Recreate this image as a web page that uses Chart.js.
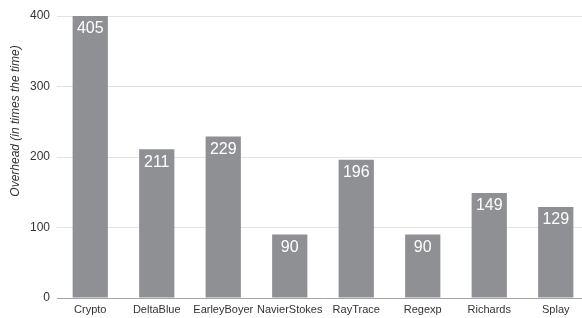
<!DOCTYPE html>
<html>
<head>
<meta charset="utf-8">
<script src="https://cdn.jsdelivr.net/npm/chart.js@4"></script>
<style>
  html, body { margin: 0; padding: 0; background: #fff; overflow: hidden; }
  .wrap { width: 589px; height: 318px; position: relative; }
</style>
</head>
<body>
<div class="wrap"><canvas id="overheadChart"></canvas></div>
<script>
const benchmarks = ['Crypto', 'DeltaBlue', 'EarleyBoyer', 'NavierStokes', 'RayTrace', 'Regexp', 'Richards', 'Splay'];
const overhead = [405, 211, 229, 90, 196, 90, 149, 129];
const yTicks = [0, 100, 200, 300, 400];
const yTitle = 'Overhead (in times the time)';

const fontFamily = '"Liberation Sans", "Helvetica Neue", Arial, sans-serif';

// white value labels inside the top of each bar, plus the rotated axis title
const barLabels = {
    id: 'barLabels',
    afterDatasetsDraw(chart) {
        const ctx = chart.ctx;
        const meta = chart.getDatasetMeta(0);
        ctx.save();
        ctx.fillStyle = '#ffffff';
        ctx.font = '16px ' + fontFamily;
        ctx.textAlign = 'center';
        ctx.textBaseline = 'top';
        meta.data.forEach((bar, i) => {
            const top = Math.max(bar.y, chart.chartArea.top);
            ctx.fillText(String(overhead[i]), bar.x, top + 5);
        });
        ctx.restore();

        // title sits a bit above the plot middle in the original
        ctx.save();
        ctx.translate(16, 121);
        ctx.rotate(-Math.PI / 2);
        ctx.fillStyle = '#333';
        ctx.font = 'italic 12px ' + fontFamily;
        ctx.textAlign = 'center';
        ctx.textBaseline = 'middle';
        ctx.fillText(yTitle, 0, 0);
        ctx.restore();
    }
};

new Chart(document.getElementById('overheadChart'), {
    type: 'bar',
    data: {
        labels: benchmarks,
        datasets: [{
            data: overhead,
            backgroundColor: '#8e9094',
            borderWidth: 0,
            barPercentage: 0.53,
            categoryPercentage: 1
        }]
    },
    options: {
        responsive: true,
        maintainAspectRatio: false,
        animation: false,
        layout: { padding: { top: 16, right: 0, left: 10, bottom: 0 } },
        plugins: {
            legend: { display: false },
            tooltip: { enabled: false }
        },
        scales: {
            x: {
                grid: { display: false, drawTicks: false },
                border: { display: true, color: '#a6a6a6', width: 1 },
                ticks: {
                    color: '#333',
                    font: { family: fontFamily, size: 11 },
                    padding: 5,
                    maxRotation: 0,
                    autoSkip: false
                },
                afterFit(scale) { scale.height = 20; }
            },
            y: {
                min: 0,
                max: 400,
                afterBuildTicks(scale) {
                    scale.ticks = yTicks.map(v => ({ value: v }));
                },
                grid: {
                    color: '#e3e3e3',
                    drawTicks: false
                },
                border: { display: false },
                ticks: {
                    color: '#333',
                    font: { family: fontFamily, size: 12 },
                    padding: 7
                },
                afterFit(scale) { scale.width = 47; }
            }
        }
    },
    plugins: [barLabels]
});
</script>
</body>
</html>
